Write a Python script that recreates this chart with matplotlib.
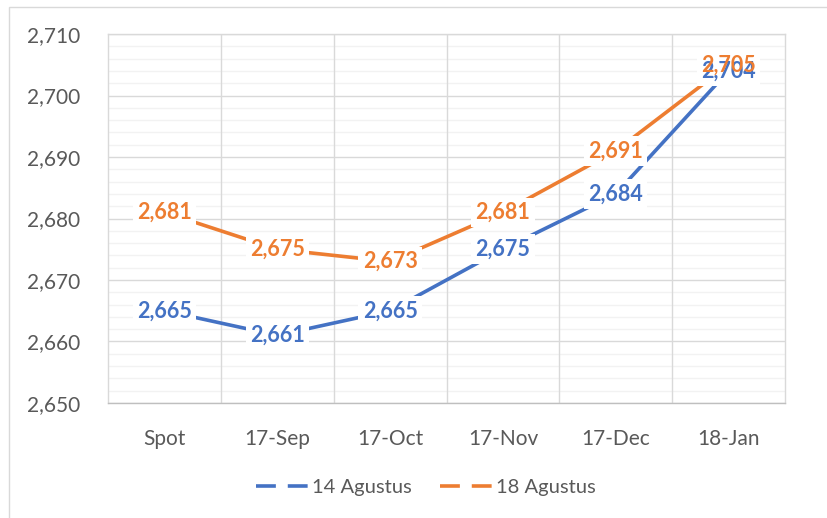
import matplotlib
matplotlib.use("Agg")
import matplotlib.pyplot as plt
from matplotlib.lines import Line2D
from matplotlib.patches import Rectangle

categories = ["Spot", "17-Sep", "17-Oct", "17-Nov", "17-Dec", "18-Jan"]
series_names = ["14 Agustus", "18 Agustus"]
aug14 = [2665, 2661, 2665, 2675, 2684, 2704]
aug18 = [2681, 2675, 2673, 2681, 2691, 2705]
colors = ["#4472C4", "#ED7D31"]

plt.rcParams['font.family'] = ['Lato', 'DejaVu Sans']
W, H = 827, 518
fig = plt.figure(figsize=(W/100, H/100), dpi=100)
ax = fig.add_axes([108/W, 1-403/H, (785-108)/W, (403-34)/H])

x = list(range(len(categories)))
ax.set_xlim(-0.5, len(categories)-0.5)
ax.set_ylim(2650, 2710)

# gridlines
for yv in range(2650, 2711, 2):
    if (yv - 2650) % 10 == 0:
        ax.axhline(yv, color="#D9D9D9", lw=1.0, zorder=1)
    else:
        ax.axhline(yv, color="#F2F2F2", lw=1.0, zorder=0.5)
for xv in [i + 0.5 for i in range(len(categories)-1)]:
    ax.axvline(xv, color="#D9D9D9", lw=1.0, zorder=1)

for s in ["left", "right", "top"]:
    ax.spines[s].set_color("#D9D9D9")
ax.spines["bottom"].set_color("#BFBFBF")
for s in ax.spines.values():
    s.set_linewidth(1.0)

ax.set_yticks(range(2650, 2711, 10))
ax.set_yticklabels([f"{v:,}" for v in range(2650, 2711, 10)])
ax.set_xticks(x)
ax.set_xticklabels(categories)
ax.tick_params(axis="both", length=0, colors="#595959", labelsize=15)
ax.tick_params(axis="y", pad=20)
ax.tick_params(axis="x", pad=19)

for vals, col in zip([aug14, aug18], colors):
    ax.plot(x, vals, color=col, lw=2.6, zorder=3, solid_capstyle="butt")
for vals, col in zip([aug14, aug18], colors):
    for xi, v in zip(x, vals):
        # white knockout box behind label
        ax.text(xi, v, f"{v:,}", color="none", fontsize=15.5, fontweight="bold",
                ha="center", va="center", zorder=4,
                bbox=dict(boxstyle="square,pad=0.2", fc="white", ec="none"))
for vals, col in zip([aug14, aug18], colors):
    for xi, v in zip(x, vals):
        ax.text(xi, v, f"{v:,}", color=col, fontsize=15.5, fontweight="bold",
                ha="center", va="center", zorder=5)

handles = [Line2D([0], [0], color=c, lw=2.6, dashes=(5.5, 3.3)) for c in colors]
leg = fig.legend(handles, series_names, loc="center", bbox_to_anchor=(426/W, 1-487/H),
                 ncol=2, frameon=False, fontsize=14.5, handlelength=2.6,
                 handletextpad=0.2, columnspacing=1.4)
for t in leg.get_texts():
    t.set_color("#595959")

fig.patches.append(Rectangle((9/W, -0.01), 1.0, 1-7/H+0.01, transform=fig.transFigure,
                             fill=False, ec="#D9D9D9", lw=1.0))

fig.savefig("out.png", dpi=100)
